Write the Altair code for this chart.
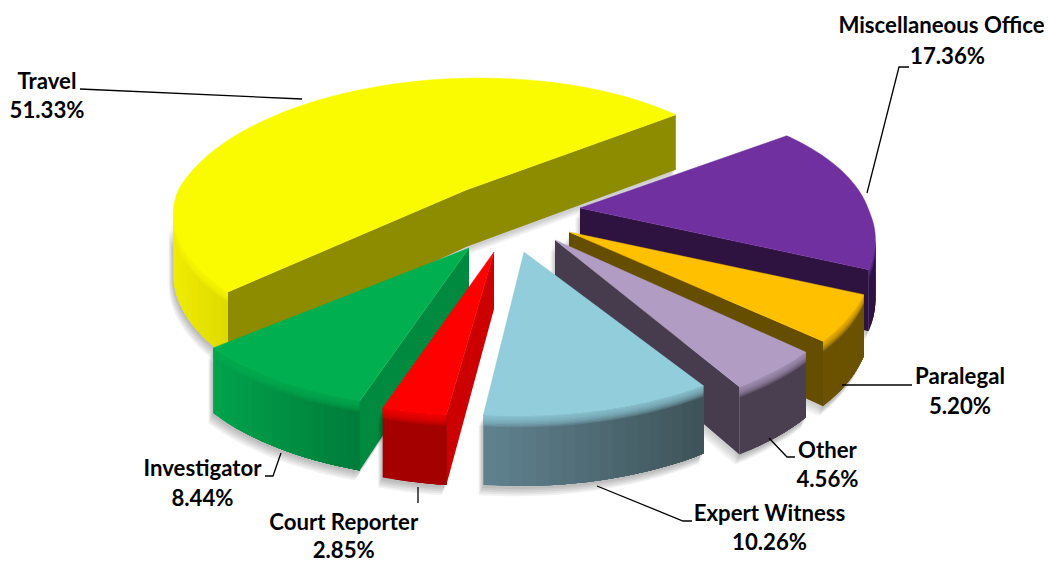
import math
import altair as alt

# ---- values ----
names = ["Travel", "Miscellaneous Office", "Paralegal", "Other", "Expert Witness", "Court Reporter", "Investigator"]
shares = [51.33, 17.36, 5.20, 4.56, 10.26, 2.85, 8.44]
pct_labels = ["51.33%", "17.36%", "5.20%", "4.56%", "10.26%", "2.85%", "8.44%"]
top_colors = ["#FAFA00", "#7030A0", "#FFC000", "#B19CC4", "#92CDDC", "#FF0000", "#00B050"]
wall_left = ["#F0EC00", "#2E1245", "#6B5200", "#4A3F50", "#5F818E", "#A40000", "#00A24C"]
wall_right = ["#DCD900", "#2E1245", "#6B5200", "#4A3F50", "#3D5258", "#A40000", "#007A38"]
cut_colors = ["#8D8B00", "#2E1240", "#664E00", "#463C4E", "#3D5258", "#CC0000", "#008A40"]

# ---- projection of the tilted pie ----
OFFSET = 8
B, A, K = 292.0, 135.0, 0.206
FAR_SHEAR = 16.0
START = 51.0
DEPTH = 57.0
# wedge tips on the page, one per slice
tips = [(466, 190), (580, 208), (569, 232), (555, 240), (524, 252), (494, 252), (469, 248)]
# small correction of each slice's outer edge
nudges = [(0, 0), (-3, 3), (3, 4), (0, 7), (-5, -6), (-12, -6), (-10, -9)]
draw_order = [0, 1, 2, 3, 4, 6, 5]
# which cut faces show: (at first angle, at last angle)
cuts = [(True, True), (False, True), (False, True), (False, True), (False, False), (True, False), (True, False)]
# the outer wall faces the viewer only between these bearings
FRONT = (102.0, 258.0)


def hex_rgb(c):
    return tuple(int(c[i:i + 2], 16) for i in (1, 3, 5))


def mix(c1, c2, t):
    a, b = hex_rgb(c1), hex_rgb(c2)
    return "#%02x%02x%02x" % tuple(round(a[i] + (b[i] - a[i]) * t) for i in range(3))


def rim(i, deg):
    tip = tips[i]
    r = math.radians(deg)
    u, v = math.sin(r), math.cos(r)
    s = 1 / (1 + K * v)
    x = (B * u + FAR_SHEAR * max(v, 0)) * s
    y = -A * v * s
    if i == 0:
        if u < 0:
            x *= 0.985
        w = max(0.0, -v) / 0.69
        x, y = x + 4 * w, y - 7 * w
    return tip[0] + x + nudges[i][0], tip[1] + y + nudges[i][1], s


def drop(s):
    return DEPTH * (1 + (0.88 if s > 1 else 0.3) * (s - 1))


def poly(pts, fill, op=1.0, sw=0.0):
    ring = [[p[0] - OFFSET, p[1] - OFFSET] for p in pts]
    ring.append(ring[0])
    return {"type": "Feature", "geometry": {"type": "Polygon", "coordinates": [ring]},
            "properties": {"fill": fill, "op": op, "sw": sw}}


def arc(i, a, b, step=2.0):
    n = max(4, int(abs(b - a) / step))
    return [rim(i, a + (b - a) * j / n) for j in range(n + 1)]


angles = []
a0 = START
for sh in shares[1:] + shares[:1]:
    angles.append((a0, a0 + sh * 3.6))
    a0 += sh * 3.6
spans = {(i + 1) % 7: angles[i] for i in range(7)}

features = []
for i in draw_order:
    tip = tips[i]
    start, end = spans[i]
    pts = arc(i, start, end)
    wall_a, wall_b = max(start, FRONT[0]), min(end, FRONT[1])
    wall = arc(i, wall_a, wall_b) if wall_b > wall_a else []

    # soft shadow under the front wall and cut faces
    for g in range(5):
        sx, sy = -1 - g * 0.9, 3 + g * 1.8
        if wall:
            low = [(x + sx, y + drop(s) + sy) for x, y, s in wall]
            up = [(x + sx, y + sy) for x, y, s in reversed(wall)]
            features.append(poly(low + up, "#000000", 0.055))
        for flag, p in zip(cuts[i], (pts[0], pts[-1])):
            if flag:
                features.append(poly([(tip[0] + sx, tip[1] + DEPTH + sy), (p[0] + sx, p[1] + drop(p[2]) + sy),
                                      (p[0] + sx, p[1] + sy), (tip[0] + sx, tip[1] + sy)], "#000000", 0.04))

    # cut faces
    tip_low = (tip[0], tip[1] + DEPTH)
    if cuts[i][0]:
        p = pts[0]
        features.append(poly([tip, p[:2], (p[0], p[1] + drop(p[2])), tip_low], cut_colors[i]))
    if cuts[i][1]:
        p = pts[-1]
        features.append(poly([tip, p[:2], (p[0], p[1] + drop(p[2])), tip_low], cut_colors[i]))

    # outer wall: overlapping bands painted left to right, so no seams appear
    if wall:
        xs = [p[0] for p in wall]
        lo, hi = min(xs), max(xs)
        left_first = wall if wall[0][0] < wall[-1][0] else wall[::-1]
        for j in range(len(left_first) - 1):
            rest = left_first[j:]
            t = (rest[0][0] - lo) / max(hi - lo, 1)
            outline = [(x, y) for x, y, s in rest] + [(x, y + drop(s)) for x, y, s in reversed(rest)]
            features.append(poly(outline, mix(wall_left[i], wall_right[i], t)))
        # soft edge where the wall meets the top face
        for frac in (0.16, 0.14, 0.12, 0.10, 0.08, 0.06, 0.04, 0.02):
            outline = [(x, y) for x, y, s in wall] + [(x, y + drop(s) * frac) for x, y, s in reversed(wall)]
            features.append(poly(outline, top_colors[i], 0.2))

    # top face
    features.append(poly([tip] + [p[:2] for p in pts], top_colors[i], 1.0, 0.5))

# leader lines
leaders = [
    [(80, 89), (302, 99)],
    [(867, 193), (899, 67), (909, 67)],
    [(842, 385), (912, 385)],
    [(769, 438), (787, 457), (795, 457)],
    [(597, 486), (683, 521), (692, 521)],
    [(418, 487), (418, 503)],
    [(281, 453), (273, 476), (265, 476)],
]
leader_features = [{"type": "Feature", "properties": {},
                    "geometry": {"type": "LineString",
                                 "coordinates": [[x - OFFSET, y - OFFSET] for x, y in line]}}
                   for line in leaders]

# label rows
name_x = [47, 941.5, 960, 827.5, 769.5, 343.7, 202.5]
pct_x = [47, 947.5, 960, 827.5, 769.5, 343.7, 202.5]
label_y1 = [82, 26, 377, 451, 514, 523, 469]
label_y2 = [111, 57, 407, 480, 543, 551, 499]
rows = []
for nm, pc, x1, x2, y1, y2 in zip(names, pct_labels, name_x, pct_x, label_y1, label_y2):
    rows.append({"t": nm, "x": x1 - OFFSET, "y": y1 - OFFSET})
    rows.append({"t": pc, "x": x2 - OFFSET, "y": y2 - OFFSET})

proj = dict(type="identity", scale=1, translate=[0, 0])

slices = alt.Chart(alt.Data(values=features)).mark_geoshape().encode(
    fill=alt.Fill("properties.fill:N", scale=None),
    stroke=alt.Stroke("properties.fill:N", scale=None),
    strokeWidth=alt.StrokeWidth("properties.sw:Q", scale=None),
    opacity=alt.Opacity("properties.op:Q", scale=None),
).project(**proj)

lines = alt.Chart(alt.Data(values=leader_features)).mark_geoshape(
    filled=False, stroke="#000000", strokeWidth=1.3
).project(**proj)

text = alt.Chart(alt.Data(values=rows)).mark_text(
    font="Lato", fontWeight="bold", fontSize=22.2, color="#000000", align="center", baseline="middle"
).encode(
    x=alt.X("x:Q", scale=None),
    y=alt.Y("y:Q", scale=None),
    text="t:N",
)

chart = alt.layer(slices, lines, text).properties(
    width=1036, height=555, padding=0, background="#ffffff",
    autosize=alt.AutoSizeParams(type="none"),
).configure_view(stroke=None)

chart.save("out.html", embed_options={"renderer": "svg", "actions": False})
